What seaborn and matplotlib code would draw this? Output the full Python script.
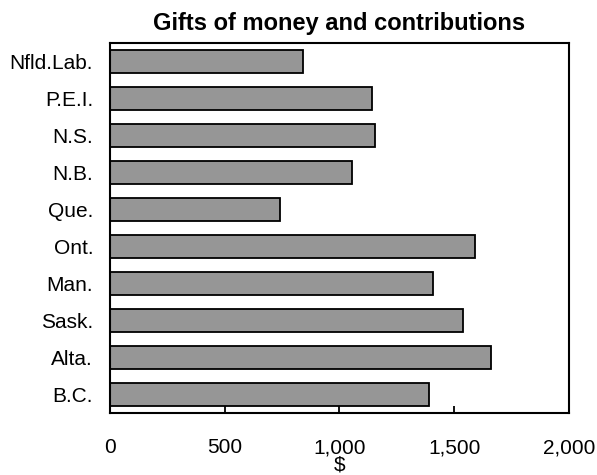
import numpy as np
import pandas as pd
import matplotlib
matplotlib.use("Agg")
import matplotlib.pyplot as plt
import seaborn as sns
from matplotlib.ticker import FuncFormatter

# data
provinces = ["Nfld.Lab.", "P.E.I.", "N.S.", "N.B.", "Que.", "Ont.", "Man.", "Sask.", "Alta.", "B.C."]
gifts = [840, 1143, 1153, 1057, 743, 1591, 1407, 1537, 1661, 1389]
x_ticks = [0, 500, 1000, 1500, 2000]

df = pd.DataFrame({"province": provinces, "gifts": gifts})

sns.set_style("white")
plt.rcParams['font.family'] = ['Liberation Sans', 'DejaVu Sans']
plt.rcParams['text.color'] = 'black'
plt.rcParams['xtick.color'] = 'black'
plt.rcParams['ytick.color'] = 'black'
plt.rcParams['axes.labelcolor'] = 'black'

fig = plt.figure(figsize=(5.97, 4.75), dpi=100)
ax = fig.add_axes([0.184, 0.1305, 0.769, 0.779])

sns.barplot(data=df, x="gifts", y="province", orient="h", color="#969696",
            saturation=1, width=0.6, edgecolor="black", linewidth=1.3, ax=ax)

ax.set_xlim(0, 2000)
ax.set_ylim(9.5, -0.5)
ax.set_xticks(x_ticks)
ax.xaxis.set_major_formatter(FuncFormatter(lambda v, p: f"{int(v):,}"))
ax.tick_params(axis="x", direction="in", length=5, width=1.3, pad=18, labelsize=15, bottom=True)
ax.tick_params(axis="y", length=0, pad=12, labelsize=15)

for s in ax.spines.values():
    s.set_visible(True)
    s.set_color("black")
    s.set_linewidth(1.5)

ax.set_xlabel("$", fontsize=15, labelpad=-1)
ax.set_ylabel("")
ax.set_title("Gifts of money and contributions", fontsize=17, fontweight="bold", pad=9)

fig.savefig("out.png", dpi=100)
